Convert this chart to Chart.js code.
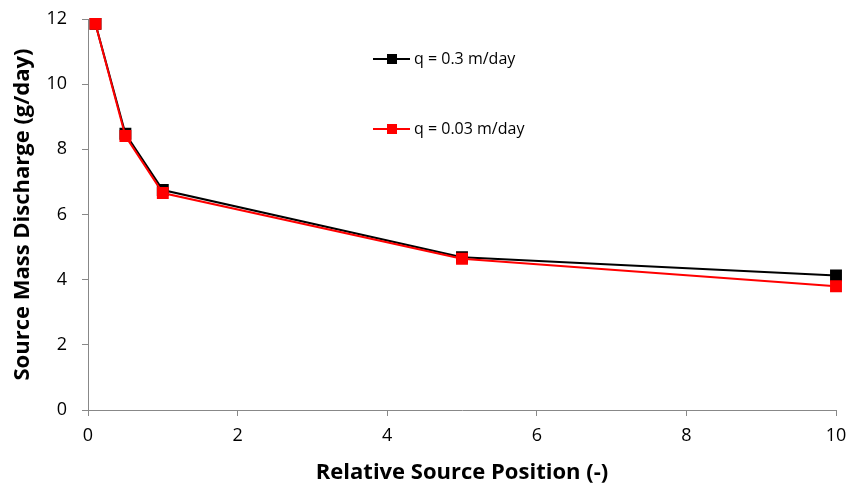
<!DOCTYPE html>
<html>
<head>
<meta charset="utf-8">
<script src="https://cdn.jsdelivr.net/npm/chart.js@4"></script>
<style>
  body { margin: 0; background: #fff; }
  #wrap { width: 851px; height: 490px; }
</style>
</head>
<body>
<div id="wrap"><canvas id="myChart" width="851" height="490"></canvas></div>
<script>
const positions = [0.1, 0.5, 1, 5, 10];
const dischargeFast = [11.85, 8.48, 6.75, 4.69, 4.13];
const dischargeSlow = [11.85, 8.41, 6.66, 4.64, 3.80];
const xTicks = [0, 2, 4, 6, 8, 10];
const yTicks = [0, 2, 4, 6, 8, 10, 12];
const seriesNames = ['q = 0.3 m/day', 'q = 0.03 m/day'];

const fontFam = '"Open Sans", Lato, sans-serif';
const axisGray = '#888888';

const toPts = (ys) => positions.map((x, i) => ({ x: x, y: ys[i] }));

// no extra room for overhanging tick labels, the plot box is fixed by layout padding
const noOverhang = (s) => {
  s.paddingTop = 0; s.paddingBottom = 0;
  s.paddingLeft = 0; s.paddingRight = 0;
};

// legend drawn inside the plot, like the original spreadsheet chart
const insideLegend = {
  id: 'insideLegend',
  afterDatasetsDraw(chart) {
    const c = chart.ctx;
    const items = [
      { text: seriesNames[0], color: '#000000', y: 59 },
      { text: seriesNames[1], color: '#ff0000', y: 129 }
    ];
    c.save();
    items.forEach(it => {
      c.strokeStyle = it.color;
      c.lineWidth = 2;
      c.beginPath();
      c.moveTo(373, it.y);
      c.lineTo(410, it.y);
      c.stroke();
      c.fillStyle = it.color;
      c.fillRect(387, it.y - 5, 10, 10);
      c.fillStyle = '#000';
      c.font = '16px ' + fontFam;
      c.textBaseline = 'middle';
      c.textAlign = 'left';
      c.fillText(it.text, 414, it.y);
    });
    c.restore();
  }
};

const ctx = document.getElementById('myChart');

new Chart(ctx, {
  type: 'line',
  data: {
    datasets: [{
      label: seriesNames[1],
      data: toPts(dischargeSlow),
      borderColor: '#ff0000',
      backgroundColor: '#ff0000',
      borderWidth: 2,
      pointStyle: 'rect',
      pointRadius: 7,
      pointHoverRadius: 7,
      order: 0,
      clip: false,
      tension: 0
    }, {
      label: seriesNames[0],
      data: toPts(dischargeFast),
      borderColor: '#000000',
      backgroundColor: '#000000',
      borderWidth: 2,
      pointStyle: 'rect',
      pointRadius: 7,
      pointHoverRadius: 7,
      order: 1,
      clip: false,
      tension: 0
    }]
  },
  options: {
    responsive: false,
    animation: false,
    layout: { padding: { top: 19, right: 15, left: 0, bottom: 0 } },
    plugins: {
      legend: { display: false },
      tooltip: { enabled: false }
    },
    scales: {
      x: {
        type: 'linear',
        min: 0,
        max: 10,
        afterBuildTicks: (s) => { s.ticks = xTicks.map(v => ({ value: v })); },
        afterFit: (s) => { s.height = 80; noOverhang(s); },
        grid: { drawOnChartArea: false, drawTicks: true, tickLength: 6, color: axisGray },
        border: { color: axisGray, width: 1 },
        ticks: { color: '#000', padding: 9, font: { family: fontFam, size: 18 } },
        title: {
          display: true,
          text: 'Relative Source Position (-)',
          color: '#000',
          padding: { top: 0, bottom: 4 },
          font: { family: fontFam, size: 22, weight: 'bold' }
        }
      },
      y: {
        min: 0,
        max: 12,
        afterBuildTicks: (s) => { s.ticks = yTicks.map(v => ({ value: v })); },
        afterFit: (s) => { s.width = 88; noOverhang(s); },
        grid: { drawOnChartArea: false, drawTicks: true, tickLength: 6, color: axisGray },
        border: { color: axisGray, width: 1 },
        ticks: { color: '#000', padding: 15, font: { family: fontFam, size: 18 } },
        title: {
          display: true,
          text: 'Source Mass Discharge (g/day)',
          color: '#000',
          padding: { top: 10, bottom: 0 },
          font: { family: fontFam, size: 22, weight: 'bold' }
        }
      }
    }
  },
  plugins: [insideLegend]
});
</script>
</body>
</html>
